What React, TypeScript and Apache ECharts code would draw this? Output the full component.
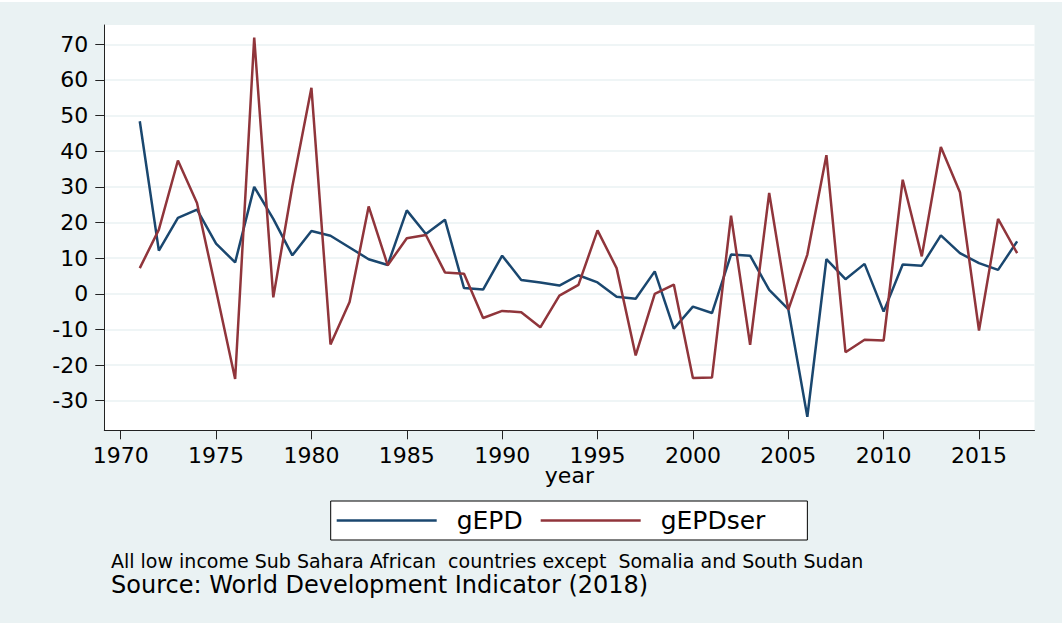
import React, { useEffect, useRef } from "react";
import * as echarts from "echarts";

const years = [
  1971, 1972, 1973, 1974, 1975, 1976, 1977, 1978, 1979, 1980,
  1981, 1982, 1983, 1984, 1985, 1986, 1987, 1988, 1989, 1990,
  1991, 1992, 1993, 1994, 1995, 1996, 1997, 1998, 1999, 2000,
  2001, 2002, 2003, 2004, 2005, 2006, 2007, 2008, 2009, 2010,
  2011, 2012, 2013, 2014, 2015, 2016, 2017,
];

const gEPD = [
  48.4, 12.1, 21.3, 23.6, 14.1, 8.8, 30.0, 21.0, 10.8, 17.6,
  16.3, 13.0, 9.7, 8.1, 23.4, 16.8, 20.8, 1.6, 1.2, 10.7,
  3.9, 3.2, 2.3, 5.2, 3.2, -0.8, -1.4, 6.3, -9.8, -3.6,
  -5.4, 11.0, 10.7, 1.1, -4.3, -34.5, 9.7, 4.1, 8.4, -5.0,
  8.2, 7.9, 16.4, 11.4, 8.6, 6.7, 14.7,
];

const gEPDser = [
  7.2, 18.0, 37.4, 25.5, 1.0, -23.9, 71.9, -1.0, 30.2, 57.8,
  -14.2, -2.3, 24.5, 8.0, 15.6, 16.5, 6.0, 5.6, -6.8, -4.8,
  -5.2, -9.4, -0.5, 2.5, 17.8, 7.2, -17.3, 0.0, 2.6, -23.6,
  -23.5, 21.9, -14.3, 28.3, -4.5, 11.0, 38.9, -16.4, -12.9, -13.1,
  32.0, 10.5, 41.2, 28.5, -10.3, 21.0, 11.4,
];

const xTicks = [1970, 1975, 1980, 1985, 1990, 1995, 2000, 2005, 2010, 2015];
const yTicks = [-30, -20, -10, 0, 10, 20, 30, 40, 50, 60, 70];

const seriesNames = ["gEPD", "gEPDser"];
const noteText =
  "All low income Sub Sahara African  countries except  Somalia and South Sudan";
const sourceText = "Source: World Development Indicator (2018)";

export default function App() {
  const ref = useRef<HTMLDivElement>(null);

  useEffect(() => {
    if (!ref.current) return;
    const chart = echarts.init(ref.current, null, { renderer: "svg" });
    const font = "'DejaVu Sans', sans-serif";
    const axisColor = "#222222";
    const bg = "#eaf2f3";
    const blue = "#1a476f";
    const red = "#90353b";

    chart.setOption({
      animation: false,
      backgroundColor: "#ffffff",
      textStyle: { fontFamily: font },
      graphic: [
        {
          type: "rect",
          z: -100,
          silent: true,
          shape: { x: 0, y: 2, width: 1062, height: 621 },
          style: { fill: bg },
        },
        {
          type: "text",
          silent: true,
          style: {
            x: 111,
            y: 560.5,
            text: noteText,
            fontFamily: font,
            fontSize: 19,
            fill: "#000",
            verticalAlign: "middle",
          },
        },
        {
          type: "text",
          silent: true,
          style: {
            x: 111,
            y: 584.5,
            text: sourceText,
            fontFamily: font,
            fontSize: 24,
            fill: "#000",
            verticalAlign: "middle",
          },
        },
      ],
      grid: {
        left: 104.3,
        top: 25,
        width: 930.2,
        height: 405.3,
        show: true,
        backgroundColor: "#ffffff",
        borderWidth: 0,
        containLabel: false,
      },
      legend: {
        data: [
          { name: seriesNames[0], icon: "rect", itemStyle: { color: blue } },
          { name: seriesNames[1], icon: "rect", itemStyle: { color: red } },
        ],
        left: 330.7,
        top: 501,
        orient: "horizontal",
        padding: [7, 42, 7, 6],
        itemWidth: 100,
        itemHeight: 2.5,
        itemGap: 18,
        borderColor: "#000",
        borderWidth: 1,
        borderRadius: 0,
        backgroundColor: "#ffffff",
        textStyle: {
          fontFamily: font,
          fontSize: 25,
          color: "#000",
          padding: [0, 0, 0, 15],
        },
      },
      xAxis: {
        type: "value",
        min: 1969.14,
        max: 2017.91,
        name: "year",
        nameLocation: "middle",
        nameGap: 34.5,
        nameMoveOverlap: false,
        nameTextStyle: { fontFamily: font, fontSize: 22, color: "#000" },
        axisLine: { show: true, onZero: false, lineStyle: { color: axisColor, width: 1 } },
        axisTick: {
          show: true,
          length: 9,
          customValues: xTicks,
          lineStyle: { color: axisColor, width: 1 },
        },
        axisLabel: {
          customValues: xTicks,
          margin: 14,
          fontFamily: font,
          fontSize: 22,
          color: "#000",
          formatter: (v: number) => String(Math.round(v)),
        },
        splitLine: { show: false },
      },
      yAxis: {
        type: "value",
        min: -38.3,
        max: 75.42,
        axisLine: { show: true, onZero: false, lineStyle: { color: axisColor, width: 1 } },
        axisTick: {
          show: true,
          length: 9,
          customValues: yTicks,
          lineStyle: { color: axisColor, width: 1 },
        },
        axisLabel: {
          customValues: yTicks,
          margin: 16,
          fontFamily: font,
          fontSize: 22,
          color: "#000",
          formatter: (v: number) => String(Math.round(v)),
        },
        splitLine: { show: true, lineStyle: { color: bg, width: 1.6 } },
      },
      series: [
        {
          name: seriesNames[0],
          type: "line",
          data: years.map((y, i) => [y, gEPD[i]]),
          symbol: "none",
          showSymbol: false,
          lineStyle: { color: blue, width: 2.5 },
          itemStyle: { color: blue },
        },
        {
          name: seriesNames[1],
          type: "line",
          data: years.map((y, i) => [y, gEPDser[i]]),
          symbol: "none",
          showSymbol: false,
          lineStyle: { color: red, width: 2.5 },
          itemStyle: { color: red },
        },
      ],
    });

    return () => {
      chart.dispose();
    };
  }, []);

  return (
    <div
      ref={ref}
      style={{
        position: "fixed",
        left: 0,
        top: 0,
        width: 1063,
        height: 623,
        background: "#ffffff",
      }}
    />
  );
}
